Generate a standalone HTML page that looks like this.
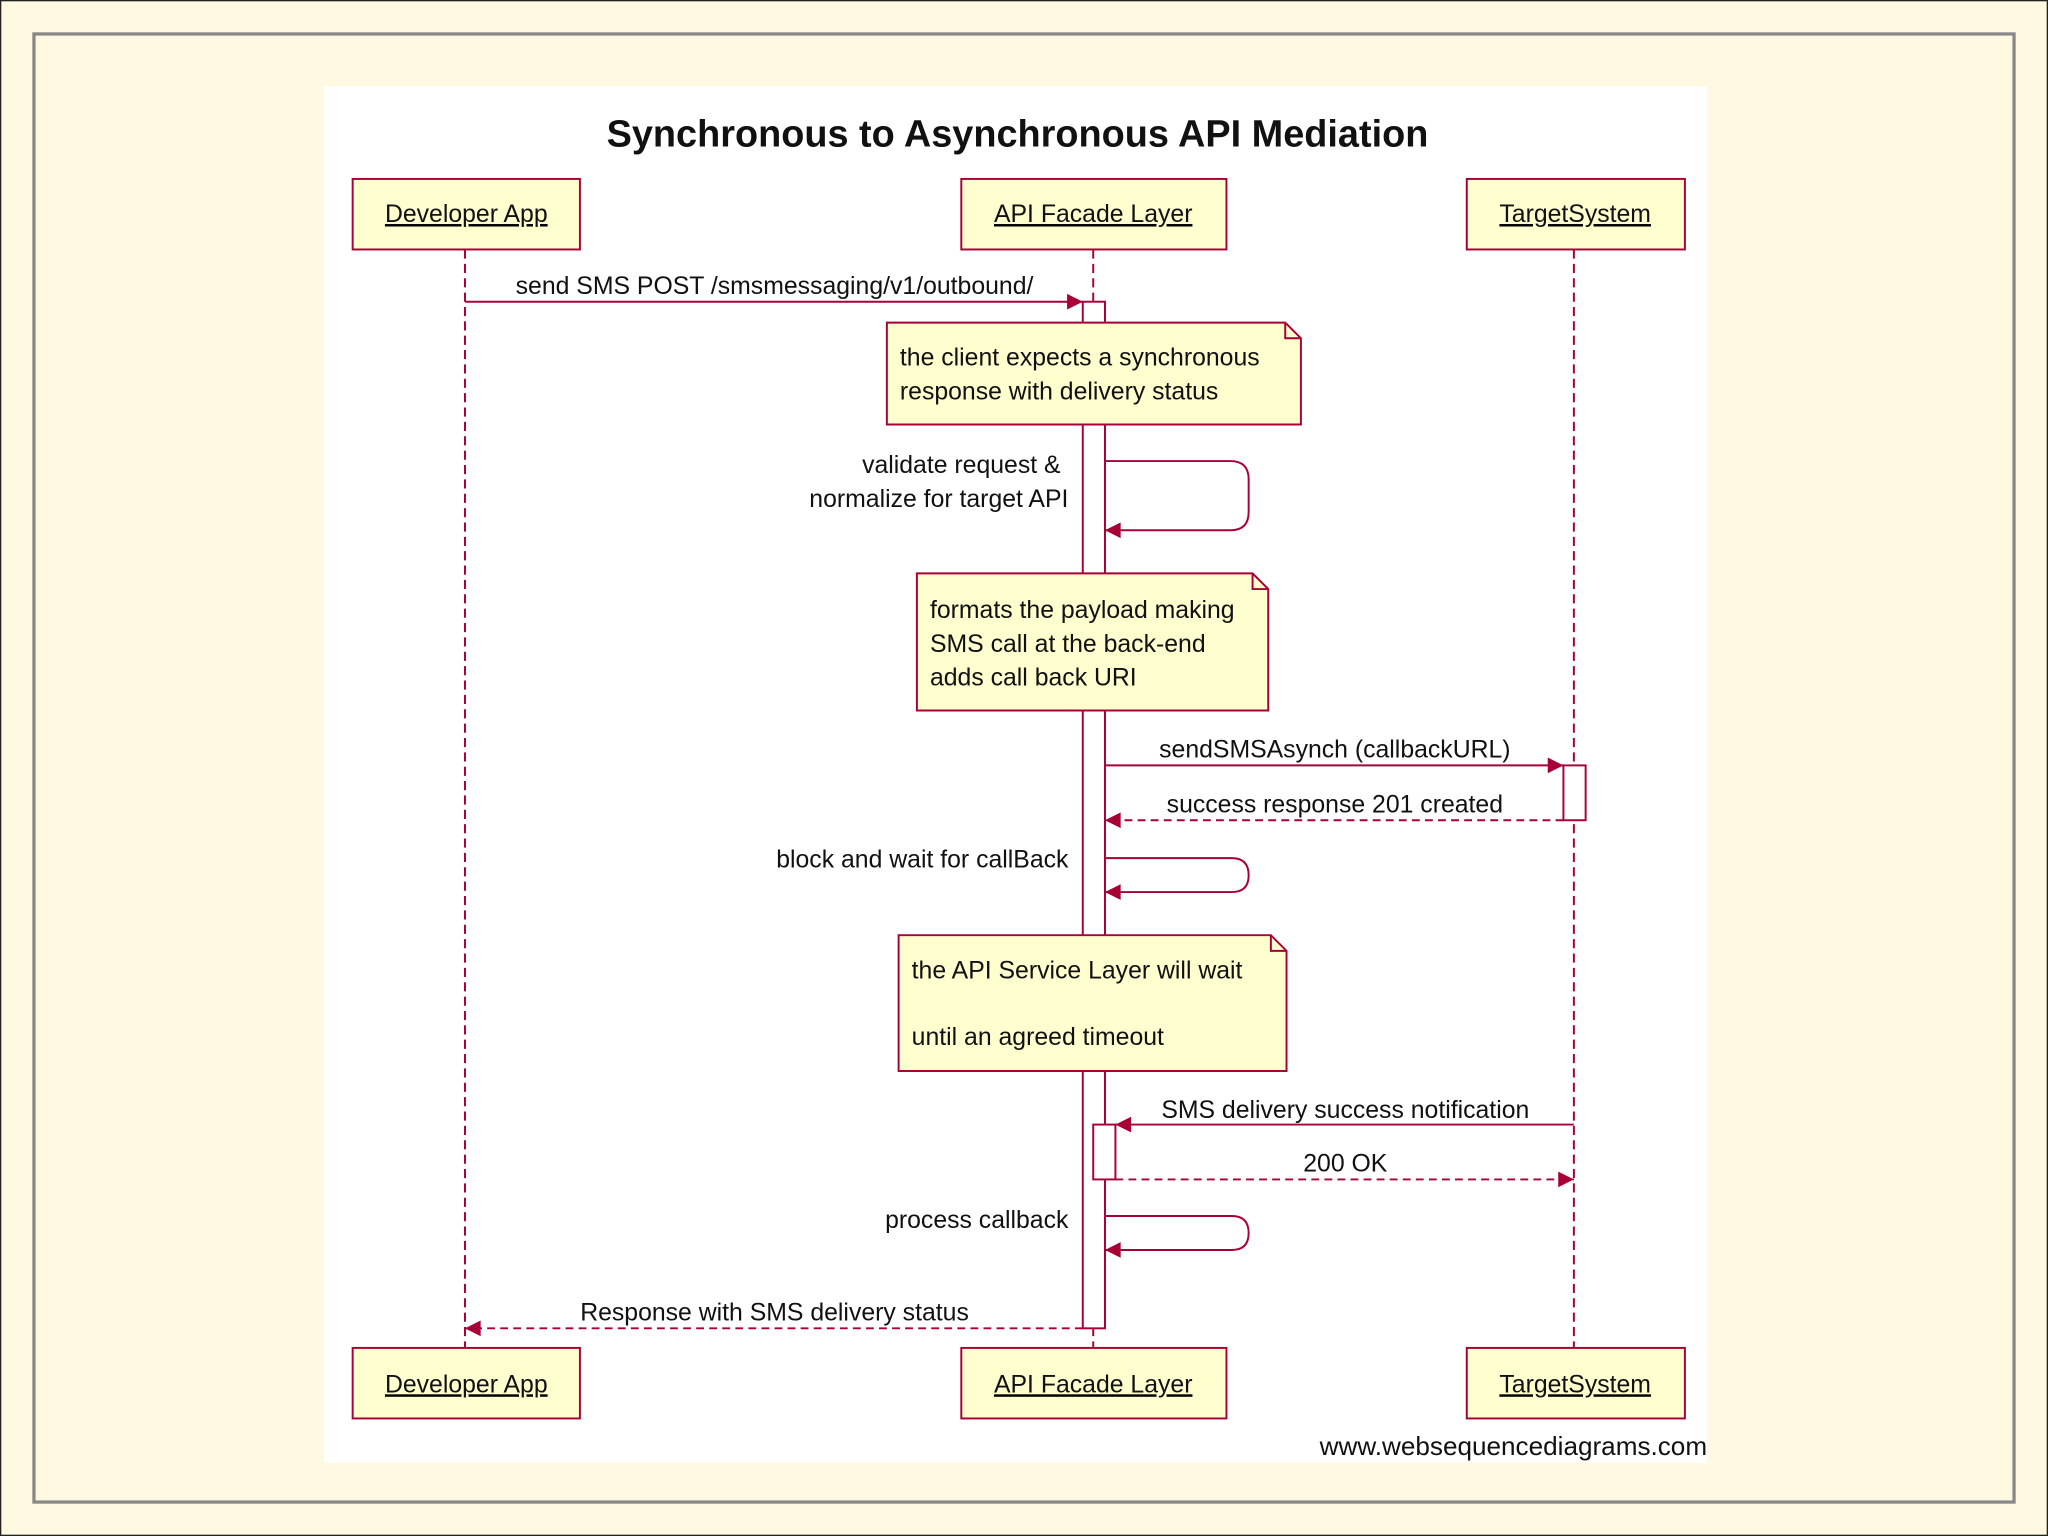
<!DOCTYPE html>
<html><head><meta charset="utf-8"><style>
html,body{margin:0;padding:0;background:#fef9e0;}
svg{display:block;}
text{font-family:"Liberation Sans",sans-serif;fill:#111;}
</style></head><body>
<svg width="2048" height="1536" viewBox="0 0 1568 1176" xmlns="http://www.w3.org/2000/svg">
<defs>
<marker id="a" viewBox="0 0 10 10" refX="10" refY="5" markerWidth="16" markerHeight="12" markerUnits="userSpaceOnUse" orient="auto"><path d="M0,0 L10,5 L0,10 z" fill="#a80036"/></marker>
</defs>
<rect x="0.5" y="0.5" width="1567" height="1175" fill="#fef9e0" stroke="#222" stroke-width="1"/>
<rect x="26" y="26" width="1516" height="1124" fill="#fef9e0" stroke="#888" stroke-width="2.5"/>
<rect x="248" y="66" width="1059" height="1054" fill="#fff"/>
<text x="779" y="112" font-size="29" font-weight="bold" text-anchor="middle">Synchronous to Asynchronous API Mediation</text>
<g stroke="#a80036" stroke-width="1.5" fill="none">
<line x1="356" y1="191" x2="356" y2="1032" stroke-dasharray="7,4"/>
<line x1="837" y1="191" x2="837" y2="1032" stroke-dasharray="7,4"/>
<line x1="1205" y1="191" x2="1205" y2="1032" stroke-dasharray="7,4"/>
</g>
<g stroke="#a80036" stroke-width="1.5" fill="#fefece" font-size="19">
<rect x="270" y="137" width="174" height="54"/><rect x="736" y="137" width="203" height="54"/><rect x="1123" y="137" width="167" height="54"/>
<rect x="270" y="1032" width="174" height="54"/><rect x="736" y="1032" width="203" height="54"/><rect x="1123" y="1032" width="167" height="54"/>
</g>
<g font-size="19" text-anchor="middle" text-decoration="underline">
<text x="357" y="170">Developer App</text><text x="837" y="170">API Facade Layer</text><text x="1206" y="170">TargetSystem</text>
<text x="357" y="1066">Developer App</text><text x="837" y="1066">API Facade Layer</text><text x="1206" y="1066">TargetSystem</text>
</g>
<g stroke="#a80036" stroke-width="1.5" fill="#fff">
<rect x="829" y="231" width="17" height="786"/>
<rect x="1197" y="586" width="17" height="42"/>
</g>
<g stroke="#a80036" stroke-width="1.5" fill="#fefece">
<path d="M679,247 H984 L996,259 V325 H679 Z"/><path d="M984,247 V259 H996" fill="none"/>
<path d="M702,439 H959 L971,451 V544 H702 Z"/><path d="M959,439 V451 H971" fill="none"/>
<path d="M688,716 H973 L985,728 V820 H688 Z"/><path d="M973,716 V728 H985" fill="none"/>
</g>
<g stroke="#a80036" stroke-width="1.5" fill="none">
<line x1="356" y1="231" x2="829" y2="231" marker-end="url(#a)"/>
<path d="M846,353 H942 Q956,353 956,367 V392 Q956,406 942,406 H846" marker-end="url(#a)"/>
<line x1="846" y1="586" x2="1197" y2="586" marker-end="url(#a)"/>
<line x1="1197" y1="628" x2="846" y2="628" stroke-dasharray="6,4" marker-end="url(#a)"/>
<path d="M846,657 H943 Q956,657 956,670 Q956,683 943,683 H846" marker-end="url(#a)"/>
<line x1="1205" y1="861" x2="854" y2="861" marker-end="url(#a)"/>
<path d="M846,931 H943 Q956,931 956,944 Q956,957 943,957 H846" marker-end="url(#a)"/>
<line x1="829" y1="1017" x2="356" y2="1017" stroke-dasharray="6,4" marker-end="url(#a)"/>
</g>
<rect x="837" y="861" width="17" height="42" stroke="#a80036" stroke-width="1.5" fill="#fff"/>
<line x1="854" y1="903" x2="1205" y2="903" stroke="#a80036" stroke-width="1.5" stroke-dasharray="6,4" marker-end="url(#a)"/>
<g font-size="19">
<text x="593" y="225" text-anchor="middle">send SMS POST /smsmessaging/v1/outbound/</text>
<text x="689" y="280">the client expects a synchronous</text>
<text x="689" y="306">response with delivery status</text>
<text x="812" y="362" text-anchor="end">validate request &amp;</text>
<text x="818" y="388" text-anchor="end">normalize for target API</text>
<text x="712" y="473">formats the payload making</text>
<text x="712" y="499">SMS call at the back-end</text>
<text x="712" y="525">adds call back URI</text>
<text x="1022" y="580" text-anchor="middle">sendSMSAsynch (callbackURL)</text>
<text x="1022" y="622" text-anchor="middle">success response 201 created</text>
<text x="818" y="664" text-anchor="end">block and wait for callBack</text>
<text x="698" y="749">the API Service Layer will wait</text>
<text x="698" y="800">until an agreed timeout</text>
<text x="1030" y="856" text-anchor="middle">SMS delivery success notification</text>
<text x="1030" y="897" text-anchor="middle">200 OK</text>
<text x="818" y="940" text-anchor="end">process callback</text>
<text x="593" y="1011" text-anchor="middle">Response with SMS delivery status</text>
<text x="1307" y="1114" text-anchor="end" font-size="20">www.websequencediagrams.com</text>
</g>
</svg>
</body></html>
